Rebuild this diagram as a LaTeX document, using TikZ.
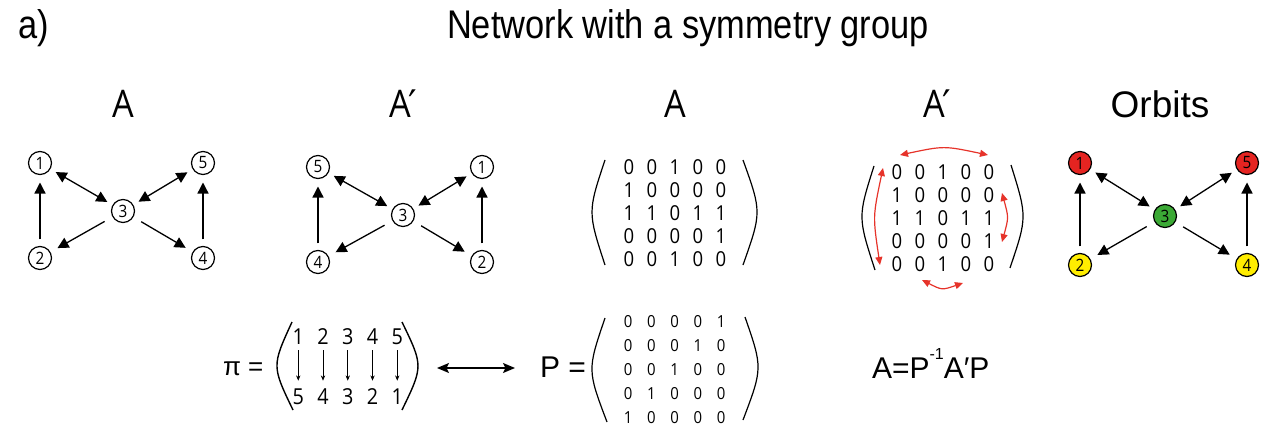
\documentclass[tikz,border=0pt]{standalone}
\usepackage{fontspec}
\setmainfont{Liberation Sans}
\newfontfamily\hvn[FakeStretch=0.86]{Liberation Sans}
\newfontfamily\mya[FakeStretch=0.9]{Open Sans}
\newfontfamily\djv{DejaVu Sans}
\usetikzlibrary{arrows.meta}
\definecolor{ored}{HTML}{E52421}
\definecolor{ogreen}{HTML}{3BA935}
\definecolor{oyellow}{HTML}{FFED00}
\definecolor{ared}{HTML}{E6332A}
\tikzset{
  vnode/.style={circle, draw, line width=0.6pt, minimum size=11.5pt, inner sep=0pt,
    font=\mya\fontsize{8.5}{8.5}\selectfont},
  edge/.style={line width=0.65pt, -{Triangle[length=5.5pt,width=5.5pt]}, shorten >=3pt, shorten <=3pt},
  bedge/.style={edge, {Triangle[length=5.5pt,width=5.5pt]}-{Triangle[length=5.5pt,width=5.5pt]}},
  vedge/.style={edge, shorten >=3.7pt, shorten <=3.3pt},
  oedge/.style={edge, shorten <=4.5pt, shorten >=4pt},
  lbl/.style={anchor=base, font=\mya\fontsize{19}{22}\selectfont},
  mnum/.style={inner sep=0pt, font=\mya\fontsize{10.3}{11}\selectfont},
  pnum/.style={inner sep=0pt, font=\mya\fontsize{8.3}{9}\selectfont},
  pinum/.style={inner sep=0pt, text height=7.5pt, text depth=0pt, font=\mya\fontsize{11}{12}\selectfont},
  paren/.style={line width=0.6pt},
  redarr/.style={draw=ared, line width=0.6pt, {Triangle[length=4pt,width=3.5pt]}-{Triangle[length=4pt,width=3.5pt]}},
  piarr/.style={line width=0.3pt, -{Stealth[length=2.6pt,width=2.2pt]}, shorten <=2.75pt, shorten >=4.25pt},
  dblarr/.style={line width=0.7pt, {Stealth[length=6pt,width=5pt,inset=1.2pt]}-{Stealth[length=6pt,width=5pt,inset=1.2pt]}},
}
\begin{document}
\begin{tikzpicture}[x=0.5pt,y=-0.5pt]
\useasboundingbox (0,0) rectangle (1264,428);

% title
\node[anchor=base, font=\hvn\fontsize{20}{24}\selectfont] (title) at (688,39) {Network with a symmetry group};
\node[anchor=base west, font=\hvn\fontsize{20}{24}\selectfont] (panel) at (11,39) {a)};

% labels
\node[lbl] (lA1) at (123,117) {A};
\node[lbl] (lA2) at (403,117) {A\kern-0.06em{\djv ′}};
\node[lbl] (lA3) at (675,117) {A};
\node[lbl] (lA4) at (937,117) {A\kern-0.06em{\djv ′}};
\node[anchor=base, font=\fontsize{18.5}{22}\selectfont] (lorb) at (1160,117) {Orbits};

% graph 1
\node[vnode] (n1) at (40,163) {1};
\node[vnode] (n5) at (203,163) {5};
\node[vnode] (n3) at (123,211) {3};
\node[vnode] (n2) at (40,258) {2};
\node[vnode] (n4) at (203,258) {4};
\draw[vedge] (n2) -- (n1);
\draw[bedge] (n1) -- (n3);
\draw[bedge] (n3) -- (n5);
\draw[oedge] (n3) -- (n2);
\draw[oedge] (n3) -- (n4);
\draw[vedge] (n4) -- (n5);

% graph 2
\node[vnode] (q5) at (318,167) {5};
\node[vnode] (q1) at (482,167) {1};
\node[vnode] (q3) at (403,215) {3};
\node[vnode] (q4) at (318,262) {4};
\node[vnode] (q2) at (482,262) {2};
\draw[vedge] (q4) -- (q5);
\draw[bedge] (q5) -- (q3);
\draw[bedge] (q3) -- (q1);
\draw[oedge] (q3) -- (q4);
\draw[oedge] (q3) -- (q2);
\draw[vedge] (q2) -- (q1);

% graph 3 (orbits)
\node[vnode, fill=ored] (o1) at (1080,163) {1};
\node[vnode, fill=ored] (o5) at (1247,163) {5};
\node[vnode, fill=ogreen] (o3) at (1165,216) {3};
\node[vnode, fill=oyellow] (o2) at (1080,265) {2};
\node[vnode, fill=oyellow] (o4) at (1247,265) {4};
\draw[vedge] (o2) -- (o1);
\draw[bedge] (o1) -- (o3);
\draw[bedge] (o3) -- (o5);
\draw[oedge] (o3) -- (o2);
\draw[oedge] (o3) -- (o4);
\draw[vedge] (o4) -- (o5);

% matrix A
\foreach \row [count=\r] in {{0,0,1,0,0},{1,0,0,0,0},{1,1,0,1,1},{0,0,0,0,1},{0,0,1,0,0}}{
  \foreach \v [count=\c] in \row {
    \node[mnum] (a\r\c) at ({606+23*\c},{144+23*\r}) {\v};
  }
}
\draw[paren] (605,160) .. controls (587.7,212) .. (605,265);
\draw[paren] (743,160) .. controls (761.7,212) .. (743,265);

% matrix A'
\foreach \row [count=\r] in {{0,0,1,0,0},{1,0,0,0,0},{1,1,0,1,1},{0,0,0,0,1},{0,0,1,0,0}}{
  \foreach \v [count=\c] in \row {
    \node[mnum] (b\r\c) at ({874+23*\c},{149+23*\r}) {\v};
  }
}
\draw[paren] (874,166) .. controls (857.8,217) .. (875,270);
\draw[paren] (1011,165) .. controls (1027.2,217) .. (1010,268);

% red swaps
\coordinate (rt1) at (900,155);
\coordinate (rt2) at (988,155);
\draw[redarr] (rt1) .. controls (944,145.7) .. (rt2);
\coordinate (rl1) at (883,168);
\coordinate (rl2) at (880,265);
\draw[redarr] (rl1) .. controls (872.8,216.5) .. (rl2);
\coordinate (rr1) at (1002,193);
\coordinate (rr2) at (1002,242);
\draw[redarr] (rr1) .. controls (1008.7,217.5) .. (rr2);
\coordinate (rb1) at (922,280);
\coordinate (rb2) at (963,283);
\draw[redarr] (rb1) .. controls (942,290.2) .. (rb2);

% pi
\node[anchor=base west, font=\fontsize{13}{15}\selectfont] (pieq) at (216,375) {π =};
\foreach \t/\b [count=\c] in {1/5,2/4,3/3,4/2,5/1}{
  \node[pinum] (t\c) at ({273.5+24.75*\c},337) {\t};
  \node[pinum] (u\c) at ({273.5+24.75*\c},397) {\b};
  \draw[piarr] (t\c) -- (u\c);
}
\draw[line width=0.7pt] (292,322) .. controls (271.8,366) .. (293,410);
\draw[line width=0.7pt] (402,322) .. controls (423.3,366) .. (402,410);

% double arrow
\coordinate (dl) at (437,368);
\coordinate (dr) at (515,368);
\draw[dblarr] (dl) -- (dr);

% P
\node[anchor=base west, font=\fontsize{15}{18}\selectfont] (peq) at (533,377) {P =};
\foreach \row [count=\r] in {{0,0,0,0,1},{0,0,0,1,0},{0,0,1,0,0},{0,1,0,0,0},{1,0,0,0,0}}{
  \foreach \v [count=\c] in \row {
    \node[pnum] (p\r\c) at ({605+23.25*\c},{298+24*\r}) {\v};
  }
}
\draw[paren] (605,318) .. controls (587.3,370) .. (607,422);
\draw[paren] (745,317) .. controls (762.7,368) .. (743,420);

% relation
\node[anchor=base west, font=\fontsize{15}{18}\selectfont] (rel) at (865,378)
  {A=P\raisebox{0.62em}{\fontsize{8}{8}\selectfont -1}A′P};
\end{tikzpicture}
\end{document}
